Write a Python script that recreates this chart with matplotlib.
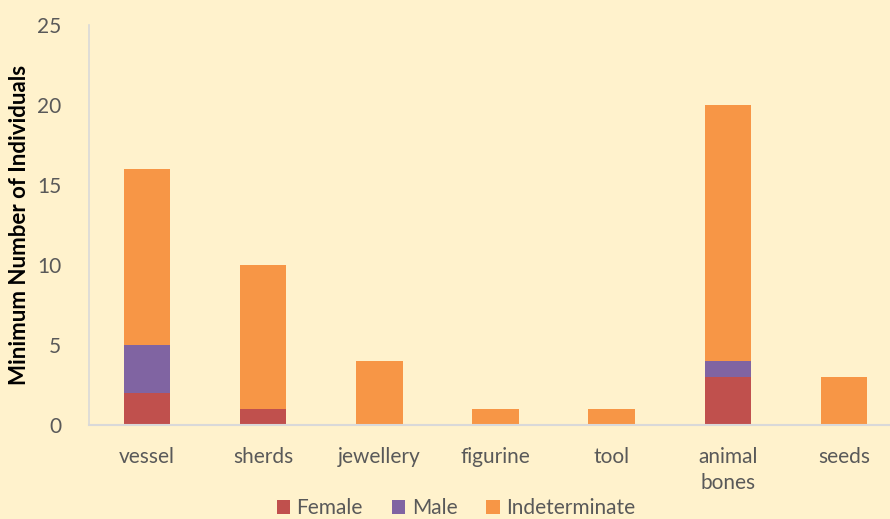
import matplotlib
matplotlib.use("Agg")
import matplotlib.pyplot as plt
import numpy as np

categories = ["vessel", "sherds", "jewellery", "figurine", "tool", "animal\nbones", "seeds"]
female = [2, 1, 0, 0, 0, 3, 0]
male = [3, 0, 0, 0, 0, 1, 0]
indeterminate = [11, 9, 4, 1, 1, 16, 3]

bg = "#FFF2CC"
txt = "#595959"
plt.rcParams['font.family'] = ['Lato', 'DejaVu Sans']

fig = plt.figure(figsize=(8.9, 5.19), dpi=100, facecolor=bg)
ax = fig.add_axes([89/890, (519-425)/519, 813/890, 400/519], facecolor=bg)

x = np.arange(len(categories))
w = 0.40
f = np.array(female); m = np.array(male); ind = np.array(indeterminate)
ax.bar(x, f, w, color="#C0504D", label="Female")
ax.bar(x, m, w, bottom=f, color="#8064A2", label="Male")
ax.bar(x, ind, w, bottom=f + m, color="#F79646", label="Indeterminate")

ax.set_xlim(-0.5, 6.5)
ax.set_ylim(0, 25)
ax.set_yticks([0, 5, 10, 15, 20, 25])
ax.set_xticks(x)
ax.set_xticklabels(categories)
for s in ["top", "right"]:
    ax.spines[s].set_visible(False)
ax.spines["left"].set_color("#D9D9D9")
ax.spines["bottom"].set_color("#D9D9D9")
ax.spines["left"].set_linewidth(1.2)
ax.spines["bottom"].set_linewidth(1.5)
ax.tick_params(axis="both", length=0, labelsize=15, labelcolor=txt)
ax.tick_params(axis="y", pad=20)
ax.tick_params(axis="x", pad=16)
for lbl in ax.get_xticklabels():
    lbl.set_linespacing(1.35)
    lbl.set_verticalalignment("top")

fig.text(20/890, 1 - 225/519, "Minimum Number of Individuals", rotation=90,
         ha="center", va="center", fontsize=16, fontweight="bold", color="black")

leg = fig.legend(loc="center", bbox_to_anchor=(456/890, 1 - 508/519), ncol=3,
                 frameon=False, fontsize=15, handlelength=0.65, handleheight=0.65,
                 handletextpad=0.3, columnspacing=1.4)
for t in leg.get_texts():
    t.set_color(txt)

fig.savefig("out.png", dpi=100, facecolor=bg)
